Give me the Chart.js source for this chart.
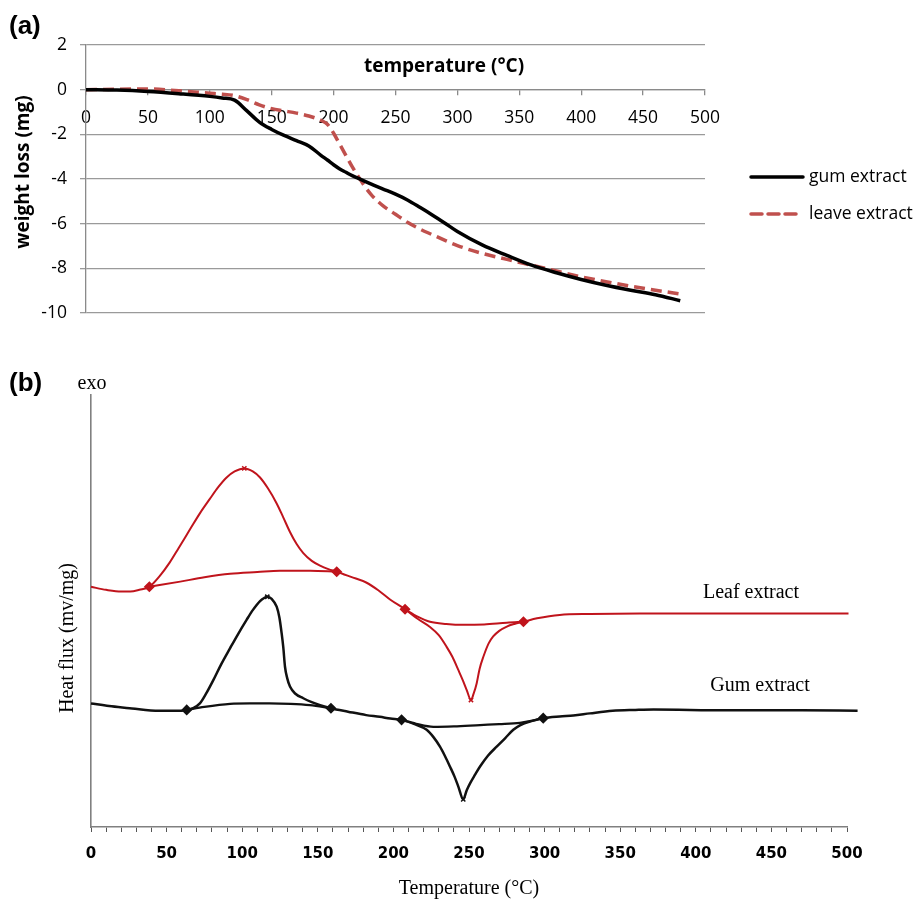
<!DOCTYPE html>
<html lang="en">
<head>
    <meta charset="UTF-8">
    <title>TGA and DSC of extracts</title>
    <script src="https://cdn.jsdelivr.net/npm/chart.js"></script>
    <style>
        body { margin: 0; background: #fff; }
        canvas { position: absolute; left: 0; }
        #tgaChart { top: 0; }
        #dscChart { top: 345px; }
    </style>
</head>
<body>
    <canvas id="tgaChart" width="917" height="345"></canvas>
    <canvas id="dscChart" width="917" height="554"></canvas>
    <script>
        // ---- (a) TGA : weight loss (mg) vs temperature (°C)
        var tgaTemp = [0, 25, 50, 75, 100, 110, 120, 130, 140, 150, 160, 170, 180, 190, 195, 200, 205, 210, 215, 220,
                       230, 240, 250, 260, 270, 280, 290, 300, 320, 340, 360, 380, 400, 420, 440, 460, 480];
        var tgaGum = [0, -0.02, -0.08, -0.18, -0.30, -0.37, -0.47, -0.95, -1.45, -1.78, -2.05, -2.28, -2.52, -2.95, -3.15, -3.36, -3.55, -3.70, -3.85, -3.97,
                      -4.22, -4.45, -4.68, -4.95, -5.28, -5.62, -5.98, -6.35, -6.95, -7.42, -7.86, -8.20, -8.50, -8.76, -8.98, -9.18, -9.45];
        var tgaLeaf = [0, 0.02, 0.03, -0.05, -0.16, -0.20, -0.27, -0.45, -0.68, -0.85, -0.95, -1.05, -1.18, -1.38, -1.55, -1.95, -2.45, -2.95, -3.45, -3.90,
                       -4.68, -5.20, -5.58, -5.95, -6.25, -6.50, -6.75, -6.98, -7.33, -7.60, -7.86, -8.12, -8.38, -8.60, -8.80, -8.98, -9.15];
        var tgaSeriesNames = ['gum extract', 'leave extract'];

        // ---- (b) DSC : heat flux (arbitrary units, 0-100) vs temperature (°C)
        var leafT = [0, 10, 20, 26, 32, 38.6, 45, 52, 58, 65.5, 72, 78.7, 84, 89.7, 95, 101.4, 107, 111.8, 117, 122.8,
                     127, 131.6, 136, 140.4, 146, 151.5, 157, 162.5, 172, 182, 190, 198, 207.7, 216, 224.2, 230, 235.2, 239,
                     243, 246, 248.5, 251.3, 253, 255.1, 257, 259.5, 263, 266, 270, 275, 280, 286, 295, 310, 330, 363, 400, 450, 501];
        var leafFlux = [55.6, 54.9, 54.5, 54.5, 54.9, 55.6, 57.9, 61.2, 64.6, 68.9, 72.6, 76.0, 78.6, 80.9, 82.3, 83.0, 82.3, 80.9, 78.4, 74.9,
                        71.8, 68.3, 65.5, 63.4, 61.6, 60.5, 59.7, 59.1, 57.9, 56.6, 54.8, 52.6, 50.4, 48.2, 46.3, 44.4, 41.7, 39.4,
                        36.3, 33.9, 31.7, 29.4, 30.8, 33.3, 36.6, 39.4, 42.5, 44.1, 45.4, 46.4, 47.0, 47.5, 48.3, 49.1, 49.3, 49.4, 49.4, 49.4, 49.4];
        var leafBase1T = [38.6, 59, 75, 92, 110, 125, 145, 162.5];
        var leafBase1F = [55.6, 56.8, 57.8, 58.6, 59.0, 59.3, 59.3, 59.1];
        var leafBase2T = [207.7, 216, 224.2, 235, 246.2, 260, 275, 286];
        var leafBase2F = [50.4, 48.7, 47.5, 47.0, 46.8, 46.9, 47.3, 47.5];
        var leafMarkT = [38.6, 162.5, 207.7, 286];
        var leafMarkF = [55.6, 59.1, 50.4, 47.5];
        var leafPeakT = [101.4, 251.3];
        var leafPeakF = [83.0, 29.4];

        var gumT = [0, 12, 25.5, 36, 47.8, 56, 63.3, 68, 72, 76, 80.9, 86, 92, 97, 103, 107, 111.8, 114.5, 116.6, 119.5,
                    122.8, 124.6, 126.1, 127.2, 128.3, 129.8, 131.6, 135, 140.4, 146, 151.5, 158.7, 170, 182, 191, 198, 205.4,
                    214, 222, 226.5, 230.8, 234, 237.4, 240.5, 243, 246.2, 248.5, 250.7, 254, 257.3, 262.5, 268.3, 274, 279.3,
                    284, 290.3, 299.1, 310, 319, 330, 345, 360, 372, 420, 470, 507];
        var gumFlux = [28.6, 28.0, 27.5, 27.1, 26.9, 26.9, 27.1, 27.6, 28.6, 30.8, 34.0, 37.6, 41.4, 44.5, 48.0, 50.2, 52.3, 53.0, 53.3, 52.8,
                       51.0, 48.5, 44.8, 41.5, 37.1, 34.4, 32.5, 30.9, 29.8, 28.9, 28.2, 27.5, 26.7, 25.9, 25.5, 25.1, 24.8,
                       23.8, 22.5, 20.8, 18.6, 16.5, 14.0, 11.6, 9.3, 6.4, 8.5, 10.1, 12.1, 14.0, 16.5, 18.6, 20.6, 22.5,
                       23.6, 24.4, 25.2, 25.6, 25.8, 26.3, 26.9, 27.1, 27.2, 27.0, 27.0, 26.9];
        var gumBase1T = [63.3, 75, 92, 105, 118, 132, 144.8, 158.7];
        var gumBase1F = [27.1, 27.8, 28.5, 28.6, 28.6, 28.5, 28.2, 27.5];
        var gumBase2T = [205.4, 215, 226.4, 240, 257.3, 270, 283.7, 292, 299.1];
        var gumBase2F = [24.8, 23.9, 23.2, 23.3, 23.6, 23.8, 24.1, 24.6, 25.2];
        var gumMarkT = [63.3, 158.7, 205.4, 299.1];
        var gumMarkF = [27.1, 27.5, 24.8, 25.2];
        var gumPeakT = [116.6, 246.2];
        var gumPeakF = [53.3, 6.4];

        function pts(xs, ys) {
            return xs.map(function (x, i) { return { x: x, y: ys[i] }; });
        }

        // draws free text and a hand-placed legend
        var freeText = {
            id: 'freeText',
            afterDraw: function (chart, args, opts) {
                var ctx = chart.ctx;
                (opts.items || []).forEach(function (t) {
                    ctx.save();
                    ctx.font = t.font;
                    ctx.fillStyle = t.color || '#000';
                    ctx.textAlign = t.align || 'left';
                    ctx.textBaseline = 'middle';
                    ctx.translate(t.x, t.y);
                    if (t.rotate) ctx.rotate(t.rotate);
                    ctx.fillText(t.text, 0, 0);
                    ctx.restore();
                });
                (opts.legend || []).forEach(function (l) {
                    var ds = chart.data.datasets[l.dataset];
                    ctx.save();
                    ctx.strokeStyle = ds.borderColor;
                    ctx.lineWidth = ds.borderWidth;
                    ctx.lineCap = 'round';
                    ctx.setLineDash(ds.borderDash || []);
                    ctx.beginPath();
                    ctx.moveTo(l.x, l.y);
                    ctx.lineTo(l.x + l.len, l.y);
                    ctx.stroke();
                    ctx.setLineDash([]);
                    ctx.font = l.font;
                    ctx.fillStyle = '#000';
                    ctx.textBaseline = 'middle';
                    ctx.fillText(ds.label, l.x + 58, l.y);
                    ctx.restore();
                });
            }
        };

        Chart.defaults.font.family = '"Open Sans", sans-serif';
        Chart.defaults.color = '#000';

        // ---------- (a)
        new Chart(document.getElementById('tgaChart').getContext('2d'), {
            type: 'line',
            data: {
                datasets: [{
                    label: tgaSeriesNames[0],
                    data: pts(tgaTemp, tgaGum),
                    borderColor: '#000000',
                    borderWidth: 3.5,
                    pointRadius: 0,
                    cubicInterpolationMode: 'monotone'
                }, {
                    label: tgaSeriesNames[1],
                    data: pts(tgaTemp, tgaLeaf),
                    borderColor: '#c0504d',
                    borderWidth: 3.5,
                    borderDash: [11, 6],
                    pointRadius: 0,
                    cubicInterpolationMode: 'monotone'
                }]
            },
            options: {
                responsive: false,
                animation: false,
                layout: { padding: { left: 0, top: 45, right: 212, bottom: 32 } },
                plugins: {
                    legend: { display: false },
                    tooltip: { enabled: false },
                    freeText: {
                        items: [
                            { text: '(a)', x: 9, y: 27, font: 'bold 26px "Liberation Sans"' },
                            { text: 'temperature (°C)', x: 444, y: 67, align: 'center', font: 'bold 19px "Open Sans"' },
                            { text: 'weight loss (mg)', x: 24, y: 172, align: 'center', rotate: -Math.PI / 2, font: 'bold 19px "Open Sans"' }
                        ],
                        legend: [
                            { dataset: 0, x: 751, y: 177, len: 52, font: '17.5px "Open Sans"' },
                            { dataset: 1, x: 751, y: 214, len: 47, font: '17.5px "Open Sans"' }
                        ]
                    }
                },
                scales: {
                    x: {
                        type: 'linear',
                        min: 0,
                        max: 500,
                        position: { y: 0 },
                        ticks: { stepSize: 50, padding: 13, maxRotation: 0, font: { size: 17.5 } },
                        grid: { drawOnChartArea: false, tickLength: 5, color: '#8a8a8a', lineWidth: 1.3 },
                        border: { color: '#8a8a8a', width: 1.3 }
                    },
                    y: {
                        min: -10,
                        max: 2,
                        ticks: { stepSize: 2, padding: 13, font: { size: 17.5 } },
                        grid: { color: '#9a9a9a', lineWidth: 1.3, tickLength: 6 },
                        border: { color: '#8a8a8a', width: 1.3 },
                        afterFit: function (scale) { scale.width = 86; }
                    }
                }
            },
            plugins: [freeText]
        });

        // ---------- (b)
        var red = '#c0141c';
        var blk = '#111111';
        function line(data, color, w) {
            return { data: data, borderColor: color, borderWidth: w, pointRadius: 0, cubicInterpolationMode: 'monotone', clip: false };
        }
        function marks(data, color, style, r) {
            return { data: data, showLine: false, pointStyle: style, pointRadius: r, borderColor: color, backgroundColor: color, borderWidth: 1.5, clip: false };
        }

        new Chart(document.getElementById('dscChart').getContext('2d'), {
            type: 'line',
            data: {
                datasets: [
                    line(pts(leafT, leafFlux), red, 2),
                    line(pts(leafBase1T, leafBase1F), red, 2),
                    line(pts(leafBase2T, leafBase2F), red, 2),
                    marks(pts(leafMarkT, leafMarkF), red, 'rectRot', 4.5),
                    marks(pts(leafPeakT, leafPeakF), red, 'crossRot', 3),
                    line(pts(gumT, gumFlux), blk, 2.5),
                    line(pts(gumBase1T, gumBase1F), blk, 2.3),
                    line(pts(gumBase2T, gumBase2F), blk, 2.3),
                    marks(pts(gumMarkT, gumMarkF), blk, 'rectRot', 4.5),
                    marks(pts(gumPeakT, gumPeakF), blk, 'crossRot', 3)
                ]
            },
            options: {
                responsive: false,
                animation: false,
                layout: { padding: { left: 91, top: 50, right: 70, bottom: 0 } },
                plugins: {
                    legend: { display: false },
                    tooltip: { enabled: false },
                    freeText: {
                        items: [
                            { text: '(b)', x: 9, y: 39, font: 'bold 26px "Liberation Sans"' },
                            { text: 'exo', x: 92, y: 39, align: 'center', font: '20px "Liberation Serif"' },
                            { text: 'Heat flux (mv/mg)', x: 68, y: 293, align: 'center', rotate: -Math.PI / 2, font: '20px "Liberation Serif"' },
                            { text: 'Leaf extract', x: 751, y: 248, align: 'center', font: '20px "Liberation Serif"' },
                            { text: 'Gum extract', x: 760, y: 341, align: 'center', font: '20px "Liberation Serif"' }
                        ]
                    }
                },
                scales: {
                    x: {
                        type: 'linear',
                        min: 0,
                        max: 500,
                        ticks: {
                            stepSize: 10,
                            autoSkip: false,
                            maxRotation: 0,
                            padding: 13,
                            font: { family: '"DejaVu Sans"', size: 15, weight: 'bold' },
                            callback: function (v) { return v % 50 === 0 ? v : ''; }
                        },
                        grid: { drawOnChartArea: false, tickLength: 5, color: '#555', lineWidth: 1 },
                        border: { color: '#808080', width: 1.6 },
                        title: {
                            display: true,
                            text: 'Temperature (°C)',
                            font: { family: '"Liberation Serif"', size: 20, lineHeight: 1 },
                            padding: 0
                        },
                        afterFit: function (scale) { scale.height = 72; }
                    },
                    y: {
                        min: 0,
                        max: 100,
                        ticks: { display: false },
                        grid: { display: false },
                        border: { color: '#808080', width: 1.6 },
                        afterFit: function (scale) { scale.width = 0; }
                    }
                }
            },
            plugins: [freeText]
        });
    </script>
</body>
</html>
